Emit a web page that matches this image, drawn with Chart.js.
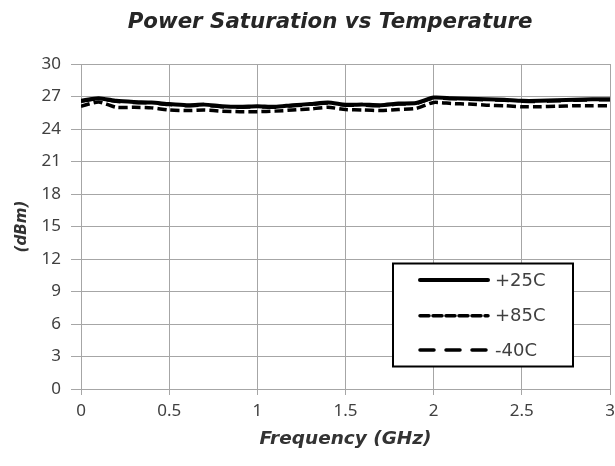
<!DOCTYPE html>
<html>
<head>
<meta charset="utf-8">
<script src="https://cdn.jsdelivr.net/npm/chart.js@4"></script>
<style>
html,body{margin:0;padding:0;background:#fff;}
#wrap{width:615px;height:466px;position:relative;}
</style>
</head>
<body>
<div id="wrap"><canvas id="c" width="615" height="466"></canvas></div>
<script>
const titleText = "Power Saturation vs Temperature";
const xTitle = "Frequency (GHz)";
const yTitle = "(dBm)";
const seriesNames = ["+25C", "+85C", "-40C"];
const freqGHz = [0.0,0.1,0.2,0.3,0.4,0.5,0.6,0.7,0.8,0.9,1.0,1.1,1.2,1.3,1.4,1.5,1.6,1.7,1.8,1.9,2.0,2.1,2.2,2.3,2.4,2.5,2.6,2.7,2.8,2.9,3.0];
const p25 = [26.6,26.85,26.6,26.5,26.45,26.3,26.2,26.25,26.1,26.05,26.1,26.05,26.2,26.3,26.45,26.25,26.25,26.2,26.35,26.4,26.9,26.85,26.8,26.75,26.7,26.6,26.6,26.65,26.7,26.75,26.75];
const p85 = [26.1,26.5,26.0,26.0,25.95,25.75,25.7,25.75,25.65,25.6,25.6,25.65,25.75,25.85,26.0,25.8,25.75,25.7,25.8,25.9,26.45,26.35,26.3,26.2,26.15,26.05,26.05,26.1,26.15,26.15,26.15];
const pm40 = [26.55,26.8,26.55,26.45,26.4,26.25,26.15,26.2,26.05,26.0,26.05,26.0,26.15,26.25,26.4,26.2,26.2,26.15,26.3,26.35,26.85,26.8,26.75,26.7,26.65,26.55,26.55,26.6,26.65,26.7,26.7];
const xTicks = [0,0.5,1,1.5,2,2.5,3];
const yTicks = [0,3,6,9,12,15,18,21,24,27,30];

const toPts = arr => arr.map((v,i)=>({x:freqGHz[i], y:v}));
const dashes = [[], [9,4], [14,12]];
const widths = [4, 3.5, 3.5];
const seriesData = [p25, p85, pm40];
const titleFont = '"DejaVu Sans", sans-serif';

function fitText(ctx, text, style, family, target, base){
  ctx.font = style + ' ' + base + 'px ' + family;
  const w = ctx.measureText(text).width;
  const size = base * target / w;
  ctx.font = style + ' ' + size.toFixed(2) + 'px ' + family;
}

const overlay = {
  id:'overlay',
  afterDraw(chart){
    const ctx = chart.ctx;
    const ca = chart.chartArea;
    ctx.save();
    const bx=393, by=263.5, bw=180, bh=103;
    ctx.fillStyle='#fff';
    ctx.fillRect(bx,by,bw,bh);
    ctx.strokeStyle='#000';
    ctx.lineWidth=2;
    ctx.strokeRect(bx,by,bw,bh);
    const rows=[280,315.7,350];
    chart.data.datasets.forEach((ds,i)=>{
      ctx.beginPath();
      ctx.setLineDash(ds.borderDash||[]);
      ctx.lineWidth = ds.borderWidth;
      ctx.lineCap='round';
      ctx.strokeStyle='#000';
      ctx.moveTo(420, rows[i]);
      ctx.lineTo(488, rows[i]);
      ctx.stroke();
      ctx.setLineDash([]);
      ctx.fillStyle='#404040';
      ctx.font='18px "DejaVu Sans", sans-serif';
      ctx.textBaseline='middle';
      ctx.textAlign='left';
      ctx.fillText(ds.label, 495, rows[i]+1);
    });
    ctx.fillStyle='#262626';
    fitText(ctx, titleText, 'italic bold', titleFont, 405, 20);
    ctx.textAlign='center';
    ctx.textBaseline='middle';
    ctx.fillText(titleText, 330, 22);
    ctx.fillStyle='#333';
    fitText(ctx, xTitle, 'italic bold', titleFont, 172, 16);
    ctx.fillText(xTitle, (ca.left+ca.right)/2, 439);
    ctx.translate(22, (ca.top+ca.bottom)/2);
    ctx.rotate(-Math.PI/2);
    fitText(ctx, yTitle, 'italic bold', titleFont, 52, 16);
    ctx.fillText(yTitle, 0, 0);
    ctx.restore();
  }
};

const tickFmt = v => String(Number(v));

new Chart(document.getElementById('c'), {
  type:'line',
  data:{
    datasets: seriesNames.map((n,i)=>({
      label:n,
      data: toPts(seriesData[i]),
      borderColor:'#000',
      backgroundColor:'#000',
      borderWidth: widths[i],
      borderDash: dashes[i],
      pointRadius:0,
      tension:0.2,
      fill:false,
      borderCapStyle:'butt'
    }))
  },
  options:{
    responsive:false,
    animation:false,
    devicePixelRatio:1,
    layout:{padding:{top:64,right:5,left:0,bottom:0}},
    plugins:{legend:{display:false}, title:{display:false}, tooltip:{enabled:false}},
    scales:{
      x:{
        type:'linear', min:0, max:3,
        afterBuildTicks: s => { s.ticks = xTicks.map(v=>({value:v})); },
        afterFit: s => { s.height = 77; s.paddingLeft = 0; s.paddingRight = 0; },
        grid:{color:'#a6a6a6', lineWidth:1, tickLength:6, drawTicks:true},
        border:{color:'#a6a6a6', width:1},
        ticks:{color:'#404040', font:{family:'"Noto Sans", sans-serif', size:17}, padding:6, maxRotation:0, callback:tickFmt}
      },
      y:{
        min:0, max:30,
        afterBuildTicks: s => { s.ticks = yTicks.map(v=>({value:v})); },
        afterFit: s => { s.width = 81; s.paddingTop = 0; s.paddingBottom = 0; },
        grid:{color:'#a6a6a6', lineWidth:1, tickLength:10, drawTicks:true},
        border:{color:'#a6a6a6', width:1},
        ticks:{color:'#404040', font:{family:'"Noto Sans", sans-serif', size:17}, padding:10, callback:tickFmt}
      }
    }
  },
  plugins:[overlay]
});
</script>
</body>
</html>
